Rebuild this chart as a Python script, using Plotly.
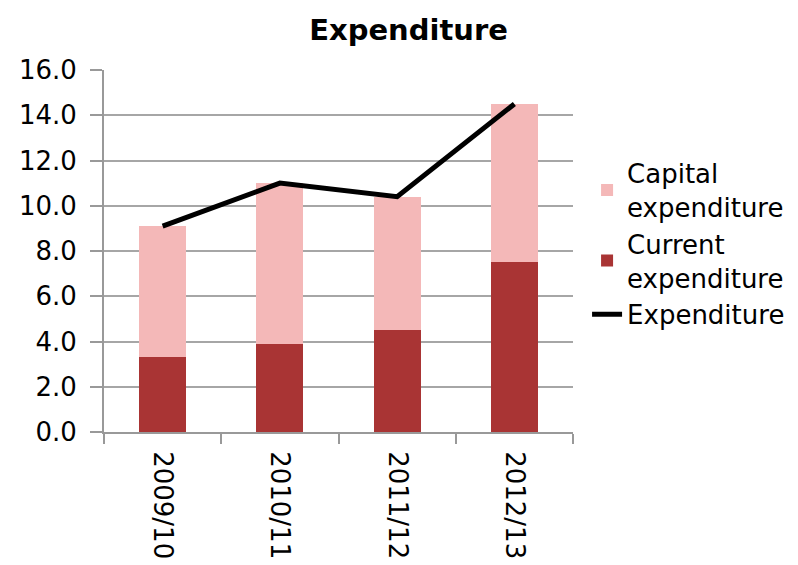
import plotly.graph_objects as go

categories = ["2009/10", "2010/11", "2011/12", "2012/13"]
current_exp = [3.3, 3.9, 4.5, 7.5]
capital_exp = [5.8, 7.1, 5.9, 7.0]
total_exp = [9.1, 11.0, 10.4, 14.5]
y_ticks = [0, 2, 4, 6, 8, 10, 12, 14, 16]

FONT = "DejaVu Sans"

fig = go.Figure()
fig.add_trace(go.Bar(x=categories, y=current_exp, name="Current<br>expenditure",
                     marker=dict(color="#A93434", line=dict(width=0)), legendrank=2))
fig.add_trace(go.Bar(x=categories, y=capital_exp, name="Capital<br>expenditure",
                     marker=dict(color="#F4B8B8", line=dict(width=0)), legendrank=1))
fig.add_trace(go.Scatter(x=categories, y=total_exp, name="Expenditure", mode="lines",
                         line=dict(color="black", width=5), legendrank=3))

fig.update_layout(
    width=798, height=565,
    margin=dict(l=104, r=225, t=70, b=133, autoexpand=False),
    paper_bgcolor="white", plot_bgcolor="white",
    barmode="stack", bargap=0.6,
    font=dict(family=FONT, size=26, color="black"),
    title=dict(text="<b>Expenditure</b>", x=0.512, xanchor="center", y=0.947, yanchor="middle",
               font=dict(family=FONT, size=29, color="black")),
    legend=dict(x=1.03, xanchor="left", y=0.78, yanchor="top", traceorder="normal",
                font=dict(family=FONT, size=26), tracegroupgap=0, bgcolor="rgba(0,0,0,0)"),
    xaxis=dict(type="category", tickson="boundaries", ticks="outside", ticklen=10,
               tickcolor="#999999", tickwidth=2, showline=True, linecolor="#999999", linewidth=2,
               tickangle=90, showgrid=False, tickfont=dict(size=26), ticklabelstandoff=12,
               automargin=False),
    yaxis=dict(range=[0, 16], tickvals=y_ticks, ticktext=[f"{v:.1f}" for v in y_ticks],
               ticks="outside", ticklen=12, tickcolor="#999999", tickwidth=2,
               showline=True, linecolor="#999999", linewidth=2,
               showgrid=True, gridcolor="#A6A6A6", gridwidth=2, zeroline=False,
               tickfont=dict(size=26), ticklabelstandoff=8, automargin=False),
)

fig.write_html("out.html")
